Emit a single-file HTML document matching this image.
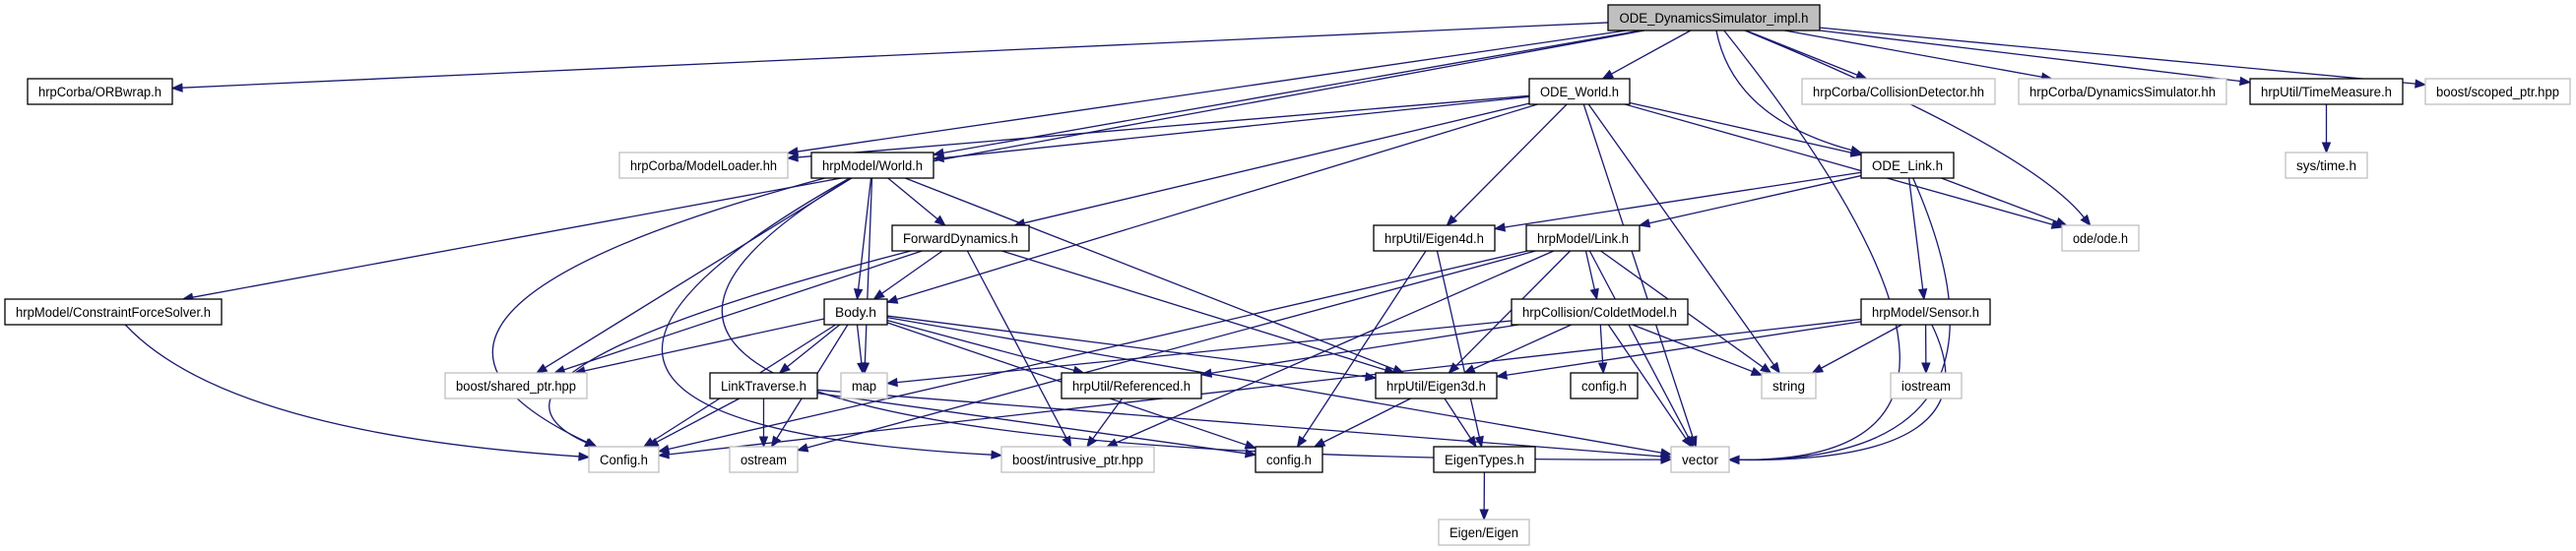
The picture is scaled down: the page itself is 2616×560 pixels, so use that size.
<!DOCTYPE html>
<html><head><meta charset="utf-8">
<style>
html,body{margin:0;padding:0;background:#fff;}
svg{display:block;}
text{font-family:"Liberation Sans",sans-serif;font-size:13.5px;fill:#000;}
</style></head>
<body>
<svg id="g" width="2616" height="560" viewBox="0 0 2616 560" xmlns="http://www.w3.org/2000/svg">
<g id="edges" fill="none" stroke="#191970" stroke-width="1.3"></g>
<g id="arrows" fill="#191970" stroke="#191970"></g>
<g id="nodes" stroke-width="1.3">
<rect x="1633" y="5" width="215" height="26" fill="#bfbfbf" stroke="#000"/><text x="1740.5" y="23" text-anchor="middle" textLength="192" lengthAdjust="spacingAndGlyphs">ODE_DynamicsSimulator_impl.h</text>
<rect x="28" y="80" width="147" height="26" fill="#fff" stroke="#000"/><text x="101.5" y="98" text-anchor="middle" textLength="125" lengthAdjust="spacingAndGlyphs">hrpCorba/ORBwrap.h</text>
<rect x="1553" y="80" width="102" height="26" fill="#fff" stroke="#000"/><text x="1604" y="98" text-anchor="middle" textLength="80" lengthAdjust="spacingAndGlyphs">ODE_World.h</text>
<rect x="1830" y="80" width="196" height="26" fill="#fff" stroke="#bfbfbf"/><text x="1928" y="98" text-anchor="middle" textLength="174" lengthAdjust="spacingAndGlyphs">hrpCorba/CollisionDetector.hh</text>
<rect x="2050" y="80" width="211" height="26" fill="#fff" stroke="#bfbfbf"/><text x="2155.5" y="98" text-anchor="middle" textLength="189" lengthAdjust="spacingAndGlyphs">hrpCorba/DynamicsSimulator.hh</text>
<rect x="2285" y="80" width="155" height="26" fill="#fff" stroke="#000"/><text x="2362.5" y="98" text-anchor="middle" textLength="133" lengthAdjust="spacingAndGlyphs">hrpUtil/TimeMeasure.h</text>
<rect x="2463" y="80" width="147" height="26" fill="#fff" stroke="#bfbfbf"/><text x="2536.5" y="98" text-anchor="middle" textLength="125" lengthAdjust="spacingAndGlyphs">boost/scoped_ptr.hpp</text>
<rect x="629" y="155" width="171" height="26" fill="#fff" stroke="#bfbfbf"/><text x="714.5" y="173" text-anchor="middle" textLength="149" lengthAdjust="spacingAndGlyphs">hrpCorba/ModelLoader.hh</text>
<rect x="824" y="155" width="124" height="26" fill="#fff" stroke="#000"/><text x="886" y="173" text-anchor="middle" textLength="102" lengthAdjust="spacingAndGlyphs">hrpModel/World.h</text>
<rect x="1890" y="155" width="94" height="26" fill="#fff" stroke="#000"/><text x="1937" y="173" text-anchor="middle" textLength="72" lengthAdjust="spacingAndGlyphs">ODE_Link.h</text>
<rect x="2321" y="155" width="83" height="26" fill="#fff" stroke="#bfbfbf"/><text x="2362.5" y="173" text-anchor="middle" textLength="61" lengthAdjust="spacingAndGlyphs">sys/time.h</text>
<rect x="906" y="229" width="139" height="26" fill="#fff" stroke="#000"/><text x="975.5" y="247" text-anchor="middle" textLength="117" lengthAdjust="spacingAndGlyphs">ForwardDynamics.h</text>
<rect x="1395" y="229" width="123" height="26" fill="#fff" stroke="#000"/><text x="1456.5" y="247" text-anchor="middle" textLength="101" lengthAdjust="spacingAndGlyphs">hrpUtil/Eigen4d.h</text>
<rect x="1550" y="229" width="115" height="26" fill="#fff" stroke="#000"/><text x="1607.5" y="247" text-anchor="middle" textLength="93" lengthAdjust="spacingAndGlyphs">hrpModel/Link.h</text>
<rect x="2094" y="229" width="78" height="26" fill="#fff" stroke="#bfbfbf"/><text x="2133" y="247" text-anchor="middle" textLength="56" lengthAdjust="spacingAndGlyphs">ode/ode.h</text>
<rect x="5" y="304" width="220" height="26" fill="#fff" stroke="#000"/><text x="115" y="322" text-anchor="middle" textLength="198" lengthAdjust="spacingAndGlyphs">hrpModel/ConstraintForceSolver.h</text>
<rect x="837" y="304" width="64" height="26" fill="#fff" stroke="#000"/><text x="869" y="322" text-anchor="middle" textLength="42" lengthAdjust="spacingAndGlyphs">Body.h</text>
<rect x="1535" y="304" width="179" height="26" fill="#fff" stroke="#000"/><text x="1624.5" y="322" text-anchor="middle" textLength="157" lengthAdjust="spacingAndGlyphs">hrpCollision/ColdetModel.h</text>
<rect x="1890" y="304" width="131" height="26" fill="#fff" stroke="#000"/><text x="1955.5" y="322" text-anchor="middle" textLength="109" lengthAdjust="spacingAndGlyphs">hrpModel/Sensor.h</text>
<rect x="452" y="379" width="144" height="26" fill="#fff" stroke="#bfbfbf"/><text x="524" y="397" text-anchor="middle" textLength="122" lengthAdjust="spacingAndGlyphs">boost/shared_ptr.hpp</text>
<rect x="721" y="379" width="109" height="26" fill="#fff" stroke="#000"/><text x="775.5" y="397" text-anchor="middle" textLength="87" lengthAdjust="spacingAndGlyphs">LinkTraverse.h</text>
<rect x="854" y="379" width="47" height="26" fill="#fff" stroke="#bfbfbf"/><text x="877.5" y="397" text-anchor="middle" textLength="25" lengthAdjust="spacingAndGlyphs">map</text>
<rect x="1078" y="379" width="142" height="26" fill="#fff" stroke="#000"/><text x="1149" y="397" text-anchor="middle" textLength="120" lengthAdjust="spacingAndGlyphs">hrpUtil/Referenced.h</text>
<rect x="1397" y="379" width="123" height="26" fill="#fff" stroke="#000"/><text x="1458.5" y="397" text-anchor="middle" textLength="101" lengthAdjust="spacingAndGlyphs">hrpUtil/Eigen3d.h</text>
<rect x="1595" y="379" width="68" height="26" fill="#fff" stroke="#000"/><text x="1629" y="397" text-anchor="middle" textLength="46" lengthAdjust="spacingAndGlyphs">config.h</text>
<rect x="1789" y="379" width="55" height="26" fill="#fff" stroke="#bfbfbf"/><text x="1816.5" y="397" text-anchor="middle" textLength="33" lengthAdjust="spacingAndGlyphs">string</text>
<rect x="1920" y="379" width="72" height="26" fill="#fff" stroke="#bfbfbf"/><text x="1956" y="397" text-anchor="middle" textLength="50" lengthAdjust="spacingAndGlyphs">iostream</text>
<rect x="598" y="454" width="71" height="26" fill="#fff" stroke="#bfbfbf"/><text x="633.5" y="472" text-anchor="middle" textLength="49" lengthAdjust="spacingAndGlyphs">Config.h</text>
<rect x="741" y="454" width="69" height="26" fill="#fff" stroke="#bfbfbf"/><text x="775.5" y="472" text-anchor="middle" textLength="47" lengthAdjust="spacingAndGlyphs">ostream</text>
<rect x="1017" y="454" width="155" height="26" fill="#fff" stroke="#bfbfbf"/><text x="1094.5" y="472" text-anchor="middle" textLength="133" lengthAdjust="spacingAndGlyphs">boost/intrusive_ptr.hpp</text>
<rect x="1275" y="454" width="68" height="26" fill="#fff" stroke="#000"/><text x="1309" y="472" text-anchor="middle" textLength="46" lengthAdjust="spacingAndGlyphs">config.h</text>
<rect x="1456" y="454" width="103" height="26" fill="#fff" stroke="#000"/><text x="1507.5" y="472" text-anchor="middle" textLength="81" lengthAdjust="spacingAndGlyphs">EigenTypes.h</text>
<rect x="1697" y="454" width="59" height="26" fill="#fff" stroke="#bfbfbf"/><text x="1726.5" y="472" text-anchor="middle" textLength="37" lengthAdjust="spacingAndGlyphs">vector</text>
<rect x="1461" y="528" width="92" height="26" fill="#fff" stroke="#bfbfbf"/><text x="1507" y="546" text-anchor="middle" textLength="70" lengthAdjust="spacingAndGlyphs">Eigen/Eigen</text>
</g>
</svg>
<script>
var N={
T:[1633,5,215],ORB:[28,80,147],OW:[1553,80,102],CD:[1830,80,196],DS:[2050,80,211],TM:[2285,80,155],SP:[2463,80,147],
ML:[629,155,171],W:[824,155,124],OL:[1890,155,94],ST:[2321,155,83],
FD:[906,229,139],E4:[1395,229,123],LK:[1550,229,115],ODE:[2094,229,78],
CFS:[5,304,220],BD:[837,304,64],CM:[1535,304,179],SN:[1890,304,131],
SH:[452,379,144],LT:[721,379,109],MAP:[854,379,47],REF:[1078,379,142],E3:[1397,379,123],CF6:[1595,379,68],STR:[1789,379,55],IOS:[1920,379,72],
CFG:[598,454,71],OS:[741,454,69],IP:[1017,454,155],CF7:[1275,454,68],ET:[1456,454,103],VEC:[1697,454,59],EE:[1461,528,92]};
var E=[["T","ORB"],["T","ML"],["T","W"],["T","CFS"],["T","OW"],["T","CD"],["T","DS"],["T","TM"],["T","SP"],["T","OL",[1760,120]],["T","ODE",[2060,150]],["T","VEC",[2100,470]],
["OW","W"],["OW","ML"],["OW","FD"],["OW","BD"],["OW","E4"],["OW","STR"],["OW","VEC"],["OW","OL"],["OW","ODE"],
["OL","E4"],["OL","LK"],["OL","ODE"],["OL","SN"],["OL","VEC",[2070,470]],
["W","FD"],["W","BD"],["W","SH"],["W","MAP"],["W","E3"],["W","CFG",[320,320]],["W","VEC",[380,470]],["W","IP",[420,430]],
["FD","BD"],["FD","SH"],["FD","IP"],["FD","E3"],["FD","CFG",[440,380]],
["BD","SH"],["BD","MAP"],["BD","LT"],["BD","REF"],["BD","E3"],["BD","CFG"],["BD","OS"],["BD","VEC"],["BD","CF7"],
["LT","CFG"],["LT","OS"],["LT","CF7"],["LT","VEC"],["CFS","CFG",[230,440]],
["LK","CM"],["LK","E3"],["LK","STR"],["LK","VEC"],["LK","IP"],["LK","CFG"],["LK","OS"],
["CM","MAP"],["CM","REF"],["CM","E3"],["CM","CF6"],["CM","STR"],["CM","VEC"],
["REF","IP"],["E3","CF7"],["E3","ET"],["E4","CF7"],["E4","ET"],["ET","EE"],
["SN","E3"],["SN","STR"],["SN","IOS"],["SN","VEC",[2030,470]],["SN","CFG"],["TM","ST"]];
var eg=document.getElementById('edges'),ag=document.getElementById('arrows'),ns="http://www.w3.org/2000/svg";
function clip(n,px,py){
 var cx=n[0]+n[2]/2,cy=n[1]+13,dx=px-cx,dy=py-cy;
 var hw=n[2]/2,hh=13;
 var s=Math.min(dx?hw/Math.abs(dx):1e9,dy?hh/Math.abs(dy):1e9);
 return [cx+dx*s,cy+dy*s];
}
E.forEach(function(e){
 var s=N[e[0]],t=N[e[1]];
 var scx=s[0]+s[2]/2,scy=s[1]+13,tcx=t[0]+t[2]/2,tcy=t[1]+13;
 var cp=e[2];
 var a=clip(s,cp?cp[0]:tcx,cp?cp[1]:tcy);
 var b=clip(t,cp?cp[0]:scx,cp?cp[1]:scy);
 var fx=cp?cp[0]:a[0],fy=cp?cp[1]:a[1];
 var ux=b[0]-fx,uy=b[1]-fy;var L=Math.sqrt(ux*ux+uy*uy)||1;ux/=L;uy/=L;
 var al=10,ex=b[0]-ux*al,ey=b[1]-uy*al;
 var p=document.createElementNS(ns,'path');
 p.setAttribute('d',cp?('M'+a[0]+','+a[1]+' Q'+cp[0]+','+cp[1]+' '+ex+','+ey):('M'+a[0]+','+a[1]+' L'+ex+','+ey));
 eg.appendChild(p);
 var px=-uy,py=ux,w=4;
 var q=document.createElementNS(ns,'polygon');
 q.setAttribute('points',b[0]+','+b[1]+' '+(ex+px*w)+','+(ey+py*w)+' '+(ex-px*w)+','+(ey-py*w));
 ag.appendChild(q);
});
</script>
</body></html>
